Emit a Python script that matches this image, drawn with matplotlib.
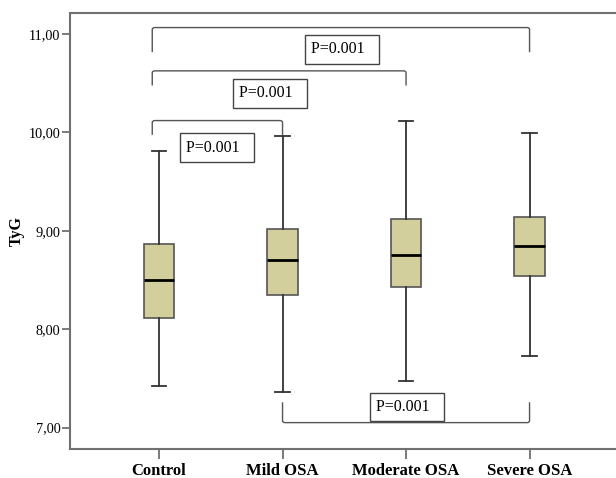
import matplotlib
matplotlib.use("Agg")
import matplotlib.pyplot as plt
from matplotlib.path import Path
from matplotlib.patches import PathPatch

categories = ["Control", "Mild OSA", "Moderate OSA", "Severe OSA"]
whislo = [7.42, 7.36, 7.47, 7.73]
q1 = [8.11, 8.35, 8.43, 8.545]
med = [8.50, 8.70, 8.755, 8.846]
q3 = [8.87, 9.015, 9.12, 9.14]
whishi = [9.815, 9.965, 10.12, 9.998]

yticks = [7.0, 8.0, 9.0, 10.0, 11.0]
ytick_labels = ["7,00", "8,00", "9,00", "10,00", "11,00"]

# comparisons: (group a, group b, bar level, leg end level, label x, label y)
comparisons = [
    (0, 1, 10.12, 9.975, 1.47, 9.846),
    (0, 2, 10.625, 10.476, 1.896, 10.396),
    (0, 3, 11.065, 10.815, 2.48, 10.843),
    (1, 3, 7.051, 7.258, 3.006, 7.21),
]
p_labels = ["P=0.001", "P=0.001", "P=0.001", "P=0.001"]

plt.rcParams['font.family'] = ['Liberation Serif', 'DejaVu Serif']

fig = plt.figure(figsize=(6.16, 4.78), dpi=100)
ax = fig.add_axes([70/616, 29/478, 1 - 70/616, (449-12.7)/478])

stats = []
for i, c in enumerate(categories):
    stats.append(dict(label=c, whislo=whislo[i], q1=q1[i], med=med[i],
                      q3=q3[i], whishi=whishi[i], fliers=[]))

positions = [1, 2, 3, 4]
edge = "#555555"
ax.bxp(stats, positions=positions, widths=0.25, patch_artist=True,
       showfliers=False,
       boxprops=dict(facecolor="#D3CF9C", edgecolor=edge, linewidth=1.2),
       medianprops=dict(color="black", linewidth=2),
       whiskerprops=dict(color="#333333", linewidth=1.3),
       capprops=dict(color="#333333", linewidth=1.3),
       capwidths=0.12)

ax.set_xlim(0.279, 4.70)
ax.set_ylim(6.783, 11.216)
ax.set_yticks(yticks)
ax.set_yticklabels(ytick_labels, fontsize=10.3)
ax.set_xticks(positions)
ax.set_xticklabels(categories, fontsize=12, fontweight="bold")
ax.set_ylabel("TyG", fontsize=11.5, fontweight="bold")
ax.yaxis.set_label_coords(-0.083, 0.5)

for s in ["left", "bottom", "top"]:
    ax.spines[s].set_color("#707070")
    ax.spines[s].set_linewidth(1.5)
ax.spines["right"].set_visible(False)
ax.tick_params(axis="y", length=6, width=1.3, color="#707070", pad=1)
ax.tick_params(axis="x", length=7, width=1.3, color="#707070", pad=3)

for (a, b, lvl, leg, tx, ty), lab in zip(comparisons, p_labels):
    xa = positions[a] - (0.055 if a == 0 else 0.0)
    xb = positions[b]
    r = 0.02 if lvl > leg else -0.02
    verts = [(xa, leg), (xa, lvl - r), (xa, lvl), (xa + 0.02, lvl),
             (xb - 0.02, lvl), (xb, lvl), (xb, lvl - r), (xb, leg)]
    codes = [Path.MOVETO, Path.LINETO, Path.CURVE3, Path.CURVE3,
             Path.LINETO, Path.CURVE3, Path.CURVE3, Path.LINETO]
    ax.add_patch(PathPatch(Path(verts, codes), facecolor="none",
                           edgecolor="#555555", linewidth=1.0))
    ax.text(tx, ty, lab + "  ", ha="center", va="center", fontsize=11.5,
            bbox=dict(boxstyle="square,pad=0.4", facecolor="white",
                      edgecolor="#444444", linewidth=1.0))

fig.savefig("out.png", dpi=100)
